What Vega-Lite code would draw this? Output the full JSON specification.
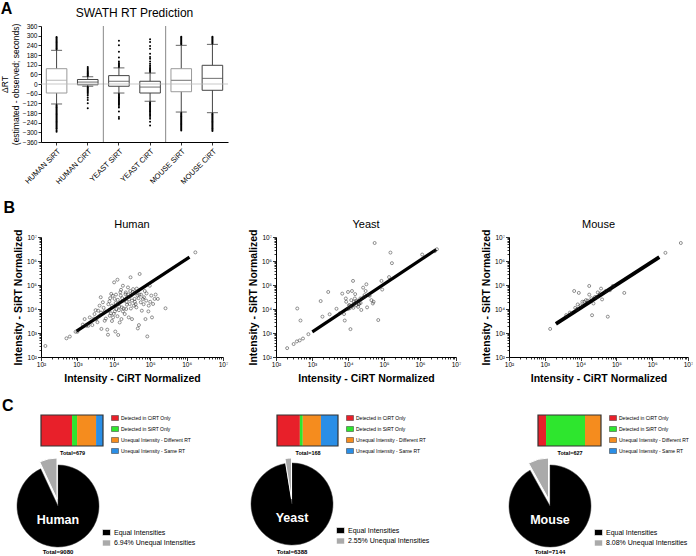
{
"$schema": "https://vega.github.io/schema/vega-lite/v6.json",
"padding": {"left": 0, "top": 1, "right": 0, "bottom": 0},
"background": "white",
"config": {
 "font": "Liberation Sans",
 "view": {"stroke": null},
 "axis": {"grid": false, "domainColor": "#000", "tickColor": "#000", "labelColor": "#000", "titleColor": "#000", "tickWidth": 0.8},
 "title": {"color": "#000"},
 "legend": {"labelColor": "#000"}
},
"datasets": {
 "stats": [
  {"g":"HUMAN SiRT","lo":-124,"q1":-56,"med":23,"q3":95,"hi":209},
  {"g":"HUMAN CiRT","lo":-14,"q1":-5,"med":12,"q3":28,"hi":45},
  {"g":"YEAST SiRT","lo":-56,"q1":-14,"med":17,"q3":52,"hi":100},
  {"g":"YEAST CiRT","lo":-107,"q1":-56,"med":-19,"q3":17,"hi":68},
  {"g":"MOUSE SiRT","lo":-174,"q1":-48,"med":23,"q3":95,"hi":240},
  {"g":"MOUSE CiRT","lo":-178,"q1":-39,"med":35,"q3":116,"hi":246}
 ],
 "outl": [
  {"g":"HUMAN SiRT","v":215},{"g":"HUMAN SiRT","v":221},{"g":"HUMAN SiRT","v":227},{"g":"HUMAN SiRT","v":233},{"g":"HUMAN SiRT","v":239},{"g":"HUMAN SiRT","v":245},{"g":"HUMAN SiRT","v":251},{"g":"HUMAN SiRT","v":257},{"g":"HUMAN SiRT","v":263},{"g":"HUMAN SiRT","v":269},{"g":"HUMAN SiRT","v":275},{"g":"HUMAN SiRT","v":281},{"g":"HUMAN SiRT","v":287},{"g":"HUMAN SiRT","v":292},
  {"g":"HUMAN SiRT","v":-130},{"g":"HUMAN SiRT","v":-136},{"g":"HUMAN SiRT","v":-142},{"g":"HUMAN SiRT","v":-148},{"g":"HUMAN SiRT","v":-154},{"g":"HUMAN SiRT","v":-160},{"g":"HUMAN SiRT","v":-166},{"g":"HUMAN SiRT","v":-172},{"g":"HUMAN SiRT","v":-178},{"g":"HUMAN SiRT","v":-184},{"g":"HUMAN SiRT","v":-190},{"g":"HUMAN SiRT","v":-196},{"g":"HUMAN SiRT","v":-202},{"g":"HUMAN SiRT","v":-208},{"g":"HUMAN SiRT","v":-214},{"g":"HUMAN SiRT","v":-220},{"g":"HUMAN SiRT","v":-226},{"g":"HUMAN SiRT","v":-232},{"g":"HUMAN SiRT","v":-238},{"g":"HUMAN SiRT","v":-244},{"g":"HUMAN SiRT","v":-250},{"g":"HUMAN SiRT","v":-256},{"g":"HUMAN SiRT","v":-262},{"g":"HUMAN SiRT","v":-268},{"g":"HUMAN SiRT","v":-274},{"g":"HUMAN SiRT","v":-280},{"g":"HUMAN SiRT","v":-288},{"g":"HUMAN SiRT","v":-296},
  {"g":"HUMAN CiRT","v":50},{"g":"HUMAN CiRT","v":55},{"g":"HUMAN CiRT","v":60},{"g":"HUMAN CiRT","v":65},{"g":"HUMAN CiRT","v":70},{"g":"HUMAN CiRT","v":76},{"g":"HUMAN CiRT","v":83},{"g":"HUMAN CiRT","v":90},{"g":"HUMAN CiRT","v":98},{"g":"HUMAN CiRT","v":106},
  {"g":"HUMAN CiRT","v":-18},{"g":"HUMAN CiRT","v":-24},{"g":"HUMAN CiRT","v":-30},{"g":"HUMAN CiRT","v":-36},{"g":"HUMAN CiRT","v":-42},{"g":"HUMAN CiRT","v":-48},{"g":"HUMAN CiRT","v":-55},{"g":"HUMAN CiRT","v":-62},{"g":"HUMAN CiRT","v":-72},{"g":"HUMAN CiRT","v":-85},{"g":"HUMAN CiRT","v":-100},{"g":"HUMAN CiRT","v":-120},{"g":"HUMAN CiRT","v":-150},
  {"g":"YEAST SiRT","v":106},{"g":"YEAST SiRT","v":112},{"g":"YEAST SiRT","v":118},{"g":"YEAST SiRT","v":124},{"g":"YEAST SiRT","v":131},{"g":"YEAST SiRT","v":140},{"g":"YEAST SiRT","v":165},{"g":"YEAST SiRT","v":200},{"g":"YEAST SiRT","v":240},{"g":"YEAST SiRT","v":268},
  {"g":"YEAST SiRT","v":-62},{"g":"YEAST SiRT","v":-68},{"g":"YEAST SiRT","v":-74},{"g":"YEAST SiRT","v":-80},{"g":"YEAST SiRT","v":-86},{"g":"YEAST SiRT","v":-92},{"g":"YEAST SiRT","v":-98},{"g":"YEAST SiRT","v":-104},{"g":"YEAST SiRT","v":-110},{"g":"YEAST SiRT","v":-116},{"g":"YEAST SiRT","v":-122},{"g":"YEAST SiRT","v":-128},{"g":"YEAST SiRT","v":-136},{"g":"YEAST SiRT","v":-146},{"g":"YEAST SiRT","v":-170},{"g":"YEAST SiRT","v":-205},{"g":"YEAST SiRT","v":-215},
  {"g":"YEAST CiRT","v":74},{"g":"YEAST CiRT","v":80},{"g":"YEAST CiRT","v":86},{"g":"YEAST CiRT","v":92},{"g":"YEAST CiRT","v":98},{"g":"YEAST CiRT","v":105},{"g":"YEAST CiRT","v":115},{"g":"YEAST CiRT","v":126},{"g":"YEAST CiRT","v":140},{"g":"YEAST CiRT","v":157},{"g":"YEAST CiRT","v":168},{"g":"YEAST CiRT","v":188},{"g":"YEAST CiRT","v":219},{"g":"YEAST CiRT","v":236},{"g":"YEAST CiRT","v":261},{"g":"YEAST CiRT","v":277},
  {"g":"YEAST CiRT","v":-113},{"g":"YEAST CiRT","v":-119},{"g":"YEAST CiRT","v":-125},{"g":"YEAST CiRT","v":-131},{"g":"YEAST CiRT","v":-137},{"g":"YEAST CiRT","v":-143},{"g":"YEAST CiRT","v":-149},{"g":"YEAST CiRT","v":-155},{"g":"YEAST CiRT","v":-161},{"g":"YEAST CiRT","v":-167},{"g":"YEAST CiRT","v":-173},{"g":"YEAST CiRT","v":-180},{"g":"YEAST CiRT","v":-188},{"g":"YEAST CiRT","v":-196},{"g":"YEAST CiRT","v":-205},{"g":"YEAST CiRT","v":-215},{"g":"YEAST CiRT","v":-234},{"g":"YEAST CiRT","v":-258},
  {"g":"MOUSE SiRT","v":246},{"g":"MOUSE SiRT","v":252},{"g":"MOUSE SiRT","v":258},{"g":"MOUSE SiRT","v":264},{"g":"MOUSE SiRT","v":270},{"g":"MOUSE SiRT","v":276},{"g":"MOUSE SiRT","v":282},{"g":"MOUSE SiRT","v":288},{"g":"MOUSE SiRT","v":294},
  {"g":"MOUSE SiRT","v":-180},{"g":"MOUSE SiRT","v":-186},{"g":"MOUSE SiRT","v":-192},{"g":"MOUSE SiRT","v":-198},{"g":"MOUSE SiRT","v":-204},{"g":"MOUSE SiRT","v":-210},{"g":"MOUSE SiRT","v":-216},{"g":"MOUSE SiRT","v":-222},{"g":"MOUSE SiRT","v":-228},{"g":"MOUSE SiRT","v":-234},{"g":"MOUSE SiRT","v":-240},{"g":"MOUSE SiRT","v":-246},{"g":"MOUSE SiRT","v":-252},{"g":"MOUSE SiRT","v":-258},{"g":"MOUSE SiRT","v":-264},{"g":"MOUSE SiRT","v":-270},{"g":"MOUSE SiRT","v":-276},{"g":"MOUSE SiRT","v":-282},{"g":"MOUSE SiRT","v":-288},
  {"g":"MOUSE CiRT","v":252},{"g":"MOUSE CiRT","v":258},{"g":"MOUSE CiRT","v":264},{"g":"MOUSE CiRT","v":270},{"g":"MOUSE CiRT","v":276},{"g":"MOUSE CiRT","v":282},{"g":"MOUSE CiRT","v":288},{"g":"MOUSE CiRT","v":294},
  {"g":"MOUSE CiRT","v":-184},{"g":"MOUSE CiRT","v":-190},{"g":"MOUSE CiRT","v":-196},{"g":"MOUSE CiRT","v":-202},{"g":"MOUSE CiRT","v":-208},{"g":"MOUSE CiRT","v":-214},{"g":"MOUSE CiRT","v":-220},{"g":"MOUSE CiRT","v":-226},{"g":"MOUSE CiRT","v":-232},{"g":"MOUSE CiRT","v":-238},{"g":"MOUSE CiRT","v":-244},{"g":"MOUSE CiRT","v":-250},{"g":"MOUSE CiRT","v":-256},{"g":"MOUSE CiRT","v":-262},{"g":"MOUSE CiRT","v":-268},{"g":"MOUSE CiRT","v":-274},{"g":"MOUSE CiRT","v":-280},{"g":"MOUSE CiRT","v":-286},{"g":"MOUSE CiRT","v":-292}
 ],
 "hum": [
  {"x":132,"y":288},{"x":500,"y":600},{"x":620,"y":710},{"x":890,"y":1120},{"x":1000,"y":1120},{"x":1580,"y":3800},{"x":2000,"y":2000},{"x":2190,"y":4470},{"x":2570,"y":2140},{"x":2950,"y":6170},{"x":3160,"y":8910},{"x":3310,"y":3800},{"x":3720,"y":8510},{"x":3980,"y":5010},{"x":4070,"y":13800},{"x":4370,"y":30900},{"x":4570,"y":1480},{"x":5010,"y":19100},{"x":5620,"y":3240},{"x":5620,"y":7940},{"x":6610,"y":1380},{"x":6920,"y":850},{"x":7080,"y":15800},{"x":7240,"y":8510},{"x":7760,"y":5250},{"x":7940,"y":28200},{"x":8510,"y":42700},{"x":8910,"y":13800},{"x":8910,"y":3160},{"x":9550,"y":4470},{"x":10000,"y":6310},{"x":10200,"y":129000},{"x":10500,"y":26300},{"x":11000,"y":1150},{"x":11200,"y":17800},{"x":11700,"y":10000},{"x":12600,"y":166000},{"x":12600,"y":5010},{"x":13200,"y":830},{"x":13500,"y":16200},{"x":14100,"y":12600},{"x":14500,"y":2750},{"x":15500,"y":36300},{"x":15800,"y":63100},{"x":16200,"y":3800},{"x":16600,"y":11700},{"x":17800,"y":93300},{"x":17800,"y":7940},{"x":19100,"y":22400},{"x":20000,"y":6170},{"x":21400,"y":49000},{"x":21900,"y":10000},{"x":22400,"y":20000},{"x":23400,"y":30900},{"x":24500,"y":79400},{"x":25100,"y":39800},{"x":25700,"y":4470},{"x":27500,"y":16200},{"x":28200,"y":56200},{"x":28800,"y":209000},{"x":30200,"y":36300},{"x":31600,"y":3800},{"x":31600,"y":22400},{"x":33900,"y":67600},{"x":35500,"y":13800},{"x":37200,"y":26300},{"x":39800,"y":49000},{"x":39800,"y":15800},{"x":41700,"y":11700},{"x":44700,"y":36300},{"x":45700,"y":1550},{"x":49000,"y":2140},{"x":50100,"y":39800},{"x":51300,"y":288000},{"x":55000,"y":19100},{"x":58900,"y":8510},{"x":63100,"y":26300},{"x":67600,"y":30900},{"x":70800,"y":56200},{"x":74100,"y":3800},{"x":77600,"y":22400},{"x":83200,"y":720},{"x":91200,"y":13800},{"x":97700,"y":93300},{"x":100000,"y":20000},{"x":107000,"y":36300},{"x":112000,"y":4470},{"x":120000,"y":16200},{"x":132000,"y":26300},{"x":162000,"y":26300},{"x":263000,"y":10700},{"x":1740000,"y":2290000},
  {"x":4470,"y":7080},{"x":5250,"y":11200},{"x":6030,"y":3980},{"x":7590,"y":20900},{"x":8320,"y":6610},{"x":9330,"y":35500},{"x":10700,"y":7940},{"x":11500,"y":39800},{"x":12900,"y":24000},{"x":13800,"y":8910},{"x":15100,"y":50100},{"x":17000,"y":28200},{"x":18600,"y":10500},{"x":20900,"y":41700},{"x":22900,"y":15100},{"x":26300,"y":25100},{"x":29500,"y":10500},{"x":33100,"y":50100},{"x":38000,"y":20000},{"x":42700,"y":70800},{"x":47900,"y":28200},{"x":56200,"y":39800},{"x":66100,"y":15800},{"x":79400,"y":44700},{"x":3550,"y":2820},{"x":2820,"y":3980},{"x":1780,"y":2000},{"x":1410,"y":2240},{"x":89100,"y":7940},{"x":141000,"y":39800}
 ],
 "yea": [
  {"x":204,"y":234},{"x":309,"y":347},{"x":380,"y":447},{"x":457,"y":490},{"x":562,"y":589},{"x":794,"y":891},{"x":389,"y":10500},{"x":479,"y":3310},{"x":1740,"y":21400},{"x":1950,"y":4790},{"x":2820,"y":51300},{"x":3090,"y":6030},{"x":4790,"y":10200},{"x":5890,"y":6610},{"x":6920,"y":43700},{"x":7760,"y":6170},{"x":8130,"y":3310},{"x":8710,"y":27500},{"x":8910,"y":20000},{"x":10000,"y":51300},{"x":10000,"y":10000},{"x":10700,"y":14500},{"x":11200,"y":10700},{"x":11700,"y":1450},{"x":12300,"y":23400},{"x":12900,"y":56200},{"x":13200,"y":13200},{"x":13800,"y":148000},{"x":14500,"y":20000},{"x":15500,"y":27500},{"x":15800,"y":41700},{"x":15800,"y":17800},{"x":17000,"y":14500},{"x":19100,"y":12300},{"x":20000,"y":15800},{"x":20400,"y":17000},{"x":21900,"y":27500},{"x":23400,"y":9120},{"x":25100,"y":28200},{"x":26300,"y":77600},{"x":28800,"y":38000},{"x":30900,"y":56200},{"x":32400,"y":107000},{"x":33900,"y":11700},{"x":38000,"y":38000},{"x":39800,"y":35500},{"x":44700,"y":23400},{"x":49000,"y":17000},{"x":51300,"y":20000},{"x":55000,"y":5620000},{"x":69200,"y":3470},{"x":85100,"y":148000},{"x":89100,"y":64600},{"x":138000,"y":214000},{"x":151000,"y":2240000},{"x":166000,"y":813000},{"x":1150000,"y":1860000},{"x":2570000,"y":2570000},{"x":2950000,"y":3090000},
  {"x":11200,"y":14100},{"x":14100,"y":11200},{"x":17800,"y":22400},{"x":22400,"y":17800},{"x":28200,"y":31600}
 ],
 "mou": [
  {"x":1410,"y":1480},{"x":5010,"y":7080},{"x":6610,"y":56200},{"x":7080,"y":11200},{"x":8320,"y":15500},{"x":8910,"y":46800},{"x":10000,"y":14100},{"x":11200,"y":20000},{"x":12600,"y":20000},{"x":14100,"y":23400},{"x":17400,"y":91200},{"x":17400,"y":39800},{"x":20000,"y":28200},{"x":20900,"y":5500},{"x":22900,"y":17000},{"x":28200,"y":31600},{"x":30200,"y":49000},{"x":37200,"y":70800},{"x":39800,"y":25100},{"x":50100,"y":56200},{"x":57500,"y":4790},{"x":66100,"y":60300},{"x":79400,"y":91200},{"x":166000,"y":46800},{"x":2340000,"y":2190000},{"x":6310000,"y":5620000},
  {"x":7940,"y":10000},{"x":15800,"y":22400},{"x":25100,"y":31600},{"x":35500,"y":44700},{"x":3980,"y":5620}
 ]
},
"concat": [
 {
  "title": {"text": "A", "anchor": "start", "fontSize": 16, "fontWeight": "bold", "offset": -10},
  "vconcat": [
   {
    "width": 187, "height": 116,
    "title": {"text": "SWATH RT Prediction", "fontSize": 12, "fontWeight": "normal", "offset": 3},
    "layer": [
     {"data": {"name": "stats"}, "mark": {"type": "rule", "color": "#444", "strokeWidth": 1},
      "encoding": {
       "x": {"field": "g", "type": "nominal", "scale": {"domain": ["HUMAN SiRT","HUMAN CiRT","YEAST SiRT","YEAST CiRT","MOUSE SiRT","MOUSE CiRT"], "paddingInner": 0, "paddingOuter": 0}, "axis": {"title": null, "labelAngle": -45, "labelFontSize": 7.5, "tickSize": 3, "labelPadding": 2}},
       "y": {"field": "lo", "type": "quantitative", "scale": {"domain": [-360, 360], "nice": false, "zero": false}, "axis": {"values": [-360,-300,-240,-180,-120,-60,0,60,120,180,240,300,360], "labelOverlap": false, "labelFlush": false, "labelFontSize": 6.5, "tickSize": 3, "labelPadding": 1, "title": ["ΔRT", "(estimated - observed; seconds)"], "titleFontSize": 8.5, "titleFontWeight": "normal", "titlePadding": 2}},
       "y2": {"field": "hi"}
      }},
     {"data": {"name": "stats"}, "mark": {"type": "bar", "width": {"band": 0.66}, "fill": "white", "strokeWidth": 1},
      "encoding": {"x": {"field": "g", "type": "nominal"}, "y": {"field": "q1", "type": "quantitative", "axis": {"values": [-360,-300,-240,-180,-120,-60,0,60,120,180,240,300,360], "labelOverlap": false, "labelFlush": false, "labelFontSize": 6.5, "tickSize": 3, "labelPadding": 1, "title": ["ΔRT", "(estimated - observed; seconds)"], "titleFontSize": 8.5, "titleFontWeight": "normal", "titlePadding": 2}}, "y2": {"field": "q3"},
       "stroke": {"condition": {"test": "datum.g == 'HUMAN SiRT' || datum.g == 'MOUSE SiRT'", "value": "#9a9a9a"}, "value": "#444"}}},
     {"data": {"name": "stats"}, "mark": {"type": "tick", "size": 20, "thickness": 1},
      "encoding": {"x": {"field": "g", "type": "nominal"}, "y": {"field": "med", "type": "quantitative", "axis": {"values": [-360,-300,-240,-180,-120,-60,0,60,120,180,240,300,360], "labelOverlap": false, "labelFlush": false, "labelFontSize": 6.5, "tickSize": 3, "labelPadding": 1, "title": ["ΔRT", "(estimated - observed; seconds)"], "titleFontSize": 8.5, "titleFontWeight": "normal", "titlePadding": 2}},
       "color": {"condition": {"test": "datum.g == 'HUMAN SiRT'", "value": "#9a9a9a"}, "value": "#333"}}},
     {"data": {"name": "stats"}, "mark": {"type": "tick", "size": 11, "thickness": 1, "color": "#222"},
      "encoding": {"x": {"field": "g", "type": "nominal"}, "y": {"field": "lo", "type": "quantitative", "axis": {"values": [-360,-300,-240,-180,-120,-60,0,60,120,180,240,300,360], "labelOverlap": false, "labelFlush": false, "labelFontSize": 6.5, "tickSize": 3, "labelPadding": 1, "title": ["ΔRT", "(estimated - observed; seconds)"], "titleFontSize": 8.5, "titleFontWeight": "normal", "titlePadding": 2}}}},
     {"data": {"name": "stats"}, "mark": {"type": "tick", "size": 11, "thickness": 1, "color": "#222"},
      "encoding": {"x": {"field": "g", "type": "nominal"}, "y": {"field": "hi", "type": "quantitative", "axis": {"values": [-360,-300,-240,-180,-120,-60,0,60,120,180,240,300,360], "labelOverlap": false, "labelFlush": false, "labelFontSize": 6.5, "tickSize": 3, "labelPadding": 1, "title": ["ΔRT", "(estimated - observed; seconds)"], "titleFontSize": 8.5, "titleFontWeight": "normal", "titlePadding": 2}}}},
     {"data": {"name": "outl"}, "mark": {"type": "point", "filled": true, "size": 4, "color": "#000", "opacity": 1},
      "encoding": {"x": {"field": "g", "type": "nominal"}, "y": {"field": "v", "type": "quantitative", "axis": {"values": [-360,-300,-240,-180,-120,-60,0,60,120,180,240,300,360], "labelOverlap": false, "labelFlush": false, "labelFontSize": 6.5, "tickSize": 3, "labelPadding": 1, "title": ["ΔRT", "(estimated - observed; seconds)"], "titleFontSize": 8.5, "titleFontWeight": "normal", "titlePadding": 2}}}},
     {"data": {"values": [{"z": 0}]}, "mark": {"type": "rule", "color": "#bbb", "strokeWidth": 0.8},
      "encoding": {"y": {"field": "z", "type": "quantitative", "axis": {"values": [-360,-300,-240,-180,-120,-60,0,60,120,180,240,300,360], "labelOverlap": false, "labelFlush": false, "labelFontSize": 6.5, "tickSize": 3, "labelPadding": 1, "title": ["ΔRT", "(estimated - observed; seconds)"], "titleFontSize": 8.5, "titleFontWeight": "normal", "titlePadding": 2}}}},
     {"data": {"values": [{"g": "YEAST SiRT"}, {"g": "MOUSE SiRT"}]}, "mark": {"type": "rule", "color": "#888", "strokeWidth": 1},
      "encoding": {"x": {"field": "g", "type": "nominal", "bandPosition": 0}}}
    ]
   }
  ]
 },
 {
  "title": {"text": "B", "anchor": "start", "fontSize": 16, "fontWeight": "bold", "dx": -10, "offset": 3},
  "hconcat": [
   {
    "width": 182, "height": 120,
    "title": {"text": "Human", "fontSize": 11, "fontWeight": "normal", "offset": -1},
    "layer": [
     {"data": {"values": [{"x": 950, "y": 1200}, {"x": 1200000, "y": 1450000}]}, "mark": {"type": "line", "color": "#000", "strokeWidth": 3.2},
      "encoding": {
       "x": {"field": "x", "type": "quantitative", "scale": {"type": "log", "domain": [100, 10000000], "nice": false}, "axis": {"title": "Intensity - CiRT Normalized", "titleFontSize": 10.5, "titleFontWeight": "bold", "titlePadding": 5, "tickCount": 50, "labelOverlap": false, "labelFlush": false, "labelFontSize": 6.5, "labelPadding": 1, "labelExpr": "abs(log(datum.value)/LN10 - round(log(datum.value)/LN10)) < 0.01 ? '10' + ['⁰','¹','²','³','⁴','⁵','⁶','⁷','⁸'][round(log(datum.value)/LN10)] : ''", "tickSize": {"condition": {"test": "abs(log(datum.value)/LN10 - round(log(datum.value)/LN10)) < 0.01", "value": 3.5}, "value": 2}}},
       "y": {"field": "y", "type": "quantitative", "scale": {"type": "log", "domain": [100, 10000000], "nice": false}, "axis": {"title": "Intensity - SiRT Normalized", "titleFontSize": 10.5, "titleFontWeight": "bold", "titlePadding": 3, "tickCount": 50, "labelOverlap": false, "labelFlush": false, "labelFontSize": 6.5, "labelPadding": 1, "labelExpr": "abs(log(datum.value)/LN10 - round(log(datum.value)/LN10)) < 0.01 ? '10' + ['⁰','¹','²','³','⁴','⁵','⁶','⁷','⁸'][round(log(datum.value)/LN10)] : ''", "tickSize": {"condition": {"test": "abs(log(datum.value)/LN10 - round(log(datum.value)/LN10)) < 0.01", "value": 3.5}, "value": 2}}}
      }},
     {"data": {"name": "hum"}, "mark": {"type": "point", "shape": "circle", "size": 9, "color": "#222", "strokeWidth": 0.7},
      "encoding": {"x": {"field": "x", "type": "quantitative"}, "y": {"field": "y", "type": "quantitative"}}}
    ]
   },
   {
    "width": 180, "height": 120,
    "title": {"text": "Yeast", "fontSize": 11, "fontWeight": "normal", "offset": -1},
    "layer": [
     {"data": {"values": [{"x": 1020, "y": 1120}, {"x": 2820000, "y": 3020000}]}, "mark": {"type": "line", "color": "#000", "strokeWidth": 3.2},
      "encoding": {
       "x": {"field": "x", "type": "quantitative", "scale": {"type": "log", "domain": [100, 10000000], "nice": false}, "axis": {"title": "Intensity - CiRT Normalized", "titleFontSize": 10.5, "titleFontWeight": "bold", "titlePadding": 5, "tickCount": 50, "labelOverlap": false, "labelFlush": false, "labelFontSize": 6.5, "labelPadding": 1, "labelExpr": "abs(log(datum.value)/LN10 - round(log(datum.value)/LN10)) < 0.01 ? '10' + ['⁰','¹','²','³','⁴','⁵','⁶','⁷','⁸'][round(log(datum.value)/LN10)] : ''", "tickSize": {"condition": {"test": "abs(log(datum.value)/LN10 - round(log(datum.value)/LN10)) < 0.01", "value": 3.5}, "value": 2}}},
       "y": {"field": "y", "type": "quantitative", "scale": {"type": "log", "domain": [100, 10000000], "nice": false}, "axis": {"title": "Intensity - SiRT Normalized", "titleFontSize": 10.5, "titleFontWeight": "bold", "titlePadding": 3, "tickCount": 50, "labelOverlap": false, "labelFlush": false, "labelFontSize": 6.5, "labelPadding": 1, "labelExpr": "abs(log(datum.value)/LN10 - round(log(datum.value)/LN10)) < 0.01 ? '10' + ['⁰','¹','²','³','⁴','⁵','⁶','⁷','⁸'][round(log(datum.value)/LN10)] : ''", "tickSize": {"condition": {"test": "abs(log(datum.value)/LN10 - round(log(datum.value)/LN10)) < 0.01", "value": 3.5}, "value": 2}}}
      }},
     {"data": {"name": "yea"}, "mark": {"type": "point", "shape": "circle", "size": 9, "color": "#222", "strokeWidth": 0.7},
      "encoding": {"x": {"field": "x", "type": "quantitative"}, "y": {"field": "y", "type": "quantitative"}}}
    ]
   },
   {
    "width": 179, "height": 120,
    "title": {"text": "Mouse", "fontSize": 11, "fontWeight": "normal", "offset": -1},
    "layer": [
     {"data": {"values": [{"x": 2040, "y": 2400}, {"x": 1580000, "y": 1450000}]}, "mark": {"type": "line", "color": "#000", "strokeWidth": 3.8},
      "encoding": {
       "x": {"field": "x", "type": "quantitative", "scale": {"type": "log", "domain": [100, 10000000], "nice": false}, "axis": {"title": "Intensity - CiRT Normalized", "titleFontSize": 10.5, "titleFontWeight": "bold", "titlePadding": 5, "tickCount": 50, "labelOverlap": false, "labelFlush": false, "labelFontSize": 6.5, "labelPadding": 1, "labelExpr": "abs(log(datum.value)/LN10 - round(log(datum.value)/LN10)) < 0.01 ? '10' + ['⁰','¹','²','³','⁴','⁵','⁶','⁷','⁸'][round(log(datum.value)/LN10)] : ''", "tickSize": {"condition": {"test": "abs(log(datum.value)/LN10 - round(log(datum.value)/LN10)) < 0.01", "value": 3.5}, "value": 2}}},
       "y": {"field": "y", "type": "quantitative", "scale": {"type": "log", "domain": [100, 10000000], "nice": false}, "axis": {"title": "Intensity - SiRT Normalized", "titleFontSize": 10.5, "titleFontWeight": "bold", "titlePadding": 3, "tickCount": 50, "labelOverlap": false, "labelFlush": false, "labelFontSize": 6.5, "labelPadding": 1, "labelExpr": "abs(log(datum.value)/LN10 - round(log(datum.value)/LN10)) < 0.01 ? '10' + ['⁰','¹','²','³','⁴','⁵','⁶','⁷','⁸'][round(log(datum.value)/LN10)] : ''", "tickSize": {"condition": {"test": "abs(log(datum.value)/LN10 - round(log(datum.value)/LN10)) < 0.01", "value": 3.5}, "value": 2}}}
      }},
     {"data": {"name": "mou"}, "mark": {"type": "point", "shape": "circle", "size": 9, "color": "#222", "strokeWidth": 0.7},
      "encoding": {"x": {"field": "x", "type": "quantitative"}, "y": {"field": "y", "type": "quantitative"}}}
    ]
   }
  ],
  "spacing": 53,
  "bounds": "flush",
  "resolve": {"scale": {"x": "independent", "y": "independent"}}
 },
 {
  "title": {"text": "C", "anchor": "start", "fontSize": 16, "fontWeight": "bold", "dx": -14, "offset": 0},
  "hconcat": [
   {
    "concat": [
     {
      "width": 62, "height": 31,
      "data": {"values": [{"sp":"h","cat":"Detected in CiRT Only","n":340,"o":1},{"sp":"h","cat":"Detected in SiRT Only","n":55,"o":2},{"sp":"h","cat":"Unequal Intensity - Different RT","n":208,"o":3},{"sp":"h","cat":"Unequal Intensity - Same RT","n":76,"o":4}]},
      "encoding": {"y": {"field": "sp", "type": "nominal", "scale": {"paddingInner": 0, "paddingOuter": 0}, "axis": null}},
      "layer": [
       {"mark": {"type": "bar"}, "encoding": {
        "x": {"field": "n", "type": "quantitative", "stack": "zero", "scale": {"domain": [0, 679], "nice": false}, "axis": {"title": "Total=679", "labels": false, "ticks": false, "domain": false, "titleFontSize": 5.5, "titleFontWeight": "bold", "titlePadding": 4}},
        "color": {"field": "cat", "type": "nominal", "scale": {"domain": ["Detected in CiRT Only","Detected in SiRT Only","Unequal Intensity - Different RT","Unequal Intensity - Same RT"], "range": ["#e8202a","#2ee62e","#f58c1e","#2a8ee6"]}, "legend": {"title": null, "orient": "right", "offset": 9, "symbolType": "M-1.4,-1H1.4V1H-1.4Z", "symbolSize": 25, "symbolStrokeColor": "#333", "symbolStrokeWidth": 0.5, "labelFontSize": 5, "rowPadding": 3, "labelOffset": 3, "labelLimit": 200, "padding": 0}},
        "order": {"field": "o", "type": "quantitative"}}},
       {"mark": {"type": "bar", "fill": "transparent", "stroke": "#333", "strokeWidth": 1.2}, "encoding": {
        "x": {"aggregate": "sum", "field": "n", "type": "quantitative", "axis": {"title": "Total=679", "labels": false, "ticks": false, "domain": false, "titleFontSize": 5.5, "titleFontWeight": "bold", "titlePadding": 4}}}}
      ]
     },
     {
      "width": 82, "height": 82,
      "title": {"text": "Total=9080", "orient": "bottom", "fontSize": 6, "fontWeight": "bold", "offset": 1, "dx": -24},
      "data": {"values": [{"lab": "Equal Intensities", "n": 8450, "o": 1}, {"lab": "6.94%  Unequal Intensities", "n": 630, "o": 2}]},
      "layer": [
       {"mark": {"type": "arc", "radius": 41, "xOffset": -24, "stroke": "#333", "strokeWidth": 0.5}, "encoding": {
        "theta": {"field": "n", "type": "quantitative", "stack": true},
        "order": {"field": "o", "type": "quantitative"},
        "color": {"field": "lab", "type": "nominal", "scale": {"domain": ["Equal Intensities", "6.94%  Unequal Intensities"], "range": ["#000000", "#aaaaaa"]}, "legend": {"title": null, "orient": "none", "legendX": 62, "legendY": 64, "direction": "vertical", "symbolType": "M-1.33,-1H1.33V1H-1.33Z", "symbolSize": 36, "symbolStrokeColor": "#333", "symbolStrokeWidth": 0.6, "labelFontSize": 7, "rowPadding": 1.5, "labelOffset": 4, "labelLimit": 200}},
        "fillOpacity": {"condition": {"test": "datum.o == 1", "value": 1}, "value": 0},
        "strokeOpacity": {"condition": {"test": "datum.o == 1", "value": 1}, "value": 0}}},
       {"mark": {"type": "arc", "radius": 41, "xOffset": -25, "yOffset": -7, "stroke": "#fff", "strokeWidth": 1}, "encoding": {
        "theta": {"field": "n", "type": "quantitative", "stack": true},
        "order": {"field": "o", "type": "quantitative"},
        "color": {"field": "lab", "type": "nominal"},
        "fillOpacity": {"condition": {"test": "datum.o == 2", "value": 1}, "value": 0},
        "strokeOpacity": {"condition": {"test": "datum.o == 2", "value": 1}, "value": 0}}},
       {"data": {"values": [{"name": "Human"}]}, "mark": {"type": "text", "color": "#fff", "fontSize": 12.5, "fontWeight": "bold", "baseline": "middle", "dy": 14, "dx": -24}, "encoding": {"text": {"field": "name", "type": "nominal"}}}
      ]
     }
    ],
    "columns": 1, "spacing": 0,
    "resolve": {"scale": {"color": "independent"}, "legend": {"color": "independent"}}
   },
   {
    "concat": [
     {
      "width": 61, "height": 31,
      "data": {"values": [{"sp":"y","cat":"Detected in CiRT Only","n":63,"o":1},{"sp":"y","cat":"Detected in SiRT Only","n":8,"o":2},{"sp":"y","cat":"Unequal Intensity - Different RT","n":50,"o":3},{"sp":"y","cat":"Unequal Intensity - Same RT","n":47,"o":4}]},
      "encoding": {"y": {"field": "sp", "type": "nominal", "scale": {"paddingInner": 0, "paddingOuter": 0}, "axis": null}},
      "layer": [
       {"mark": {"type": "bar"}, "encoding": {
        "x": {"field": "n", "type": "quantitative", "stack": "zero", "scale": {"domain": [0, 168], "nice": false}, "axis": {"title": "Total=168", "labels": false, "ticks": false, "domain": false, "titleFontSize": 5.5, "titleFontWeight": "bold", "titlePadding": 4}},
        "color": {"field": "cat", "type": "nominal", "scale": {"domain": ["Detected in CiRT Only","Detected in SiRT Only","Unequal Intensity - Different RT","Unequal Intensity - Same RT"], "range": ["#e8202a","#2ee62e","#f58c1e","#2a8ee6"]}, "legend": {"title": null, "orient": "right", "offset": 9, "symbolType": "M-1.4,-1H1.4V1H-1.4Z", "symbolSize": 25, "symbolStrokeColor": "#333", "symbolStrokeWidth": 0.5, "labelFontSize": 5, "rowPadding": 3, "labelOffset": 3, "labelLimit": 200, "padding": 0}},
        "order": {"field": "o", "type": "quantitative"}}},
       {"mark": {"type": "bar", "fill": "transparent", "stroke": "#333", "strokeWidth": 1.2}, "encoding": {
        "x": {"aggregate": "sum", "field": "n", "type": "quantitative", "axis": {"title": "Total=168", "labels": false, "ticks": false, "domain": false, "titleFontSize": 5.5, "titleFontWeight": "bold", "titlePadding": 4}}}}
      ]
     },
     {
      "width": 82, "height": 82,
      "title": {"text": "Total=6388", "orient": "bottom", "fontSize": 6, "fontWeight": "bold", "offset": 1, "dx": -26, "dy": -21},
      "data": {"values": [{"lab": "Equal Intensities", "n": 6225, "o": 1}, {"lab": "2.55%  Unequal Intensities", "n": 163, "o": 2}]},
      "layer": [
       {"mark": {"type": "arc", "radius": 41, "xOffset": -26, "stroke": "#333", "strokeWidth": 0.5}, "encoding": {
        "theta": {"field": "n", "type": "quantitative", "stack": true},
        "order": {"field": "o", "type": "quantitative"},
        "color": {"field": "lab", "type": "nominal", "scale": {"domain": ["Equal Intensities", "2.55%  Unequal Intensities"], "range": ["#000000", "#aaaaaa"]}, "legend": {"title": null, "orient": "none", "legendX": 37, "legendY": 41, "padding": 23, "direction": "vertical", "symbolType": "M-1.33,-1H1.33V1H-1.33Z", "symbolSize": 36, "symbolStrokeColor": "#333", "symbolStrokeWidth": 0.6, "labelFontSize": 7, "rowPadding": 1.5, "labelOffset": 4, "labelLimit": 200}},
        "fillOpacity": {"condition": {"test": "datum.o == 1", "value": 1}, "value": 0},
        "strokeOpacity": {"condition": {"test": "datum.o == 1", "value": 1}, "value": 0}}},
       {"mark": {"type": "arc", "radius": 41, "xOffset": -26.5, "yOffset": -5, "stroke": "#fff", "strokeWidth": 1}, "encoding": {
        "theta": {"field": "n", "type": "quantitative", "stack": true},
        "order": {"field": "o", "type": "quantitative"},
        "color": {"field": "lab", "type": "nominal"},
        "fillOpacity": {"condition": {"test": "datum.o == 2", "value": 1}, "value": 0},
        "strokeOpacity": {"condition": {"test": "datum.o == 2", "value": 1}, "value": 0}}},
       {"data": {"values": [{"name": "Yeast"}]}, "mark": {"type": "text", "color": "#fff", "fontSize": 12.5, "fontWeight": "bold", "baseline": "middle", "dy": 14, "dx": -26}, "encoding": {"text": {"field": "name", "type": "nominal"}}}
      ]
     }
    ],
    "columns": 1, "spacing": 0,
    "resolve": {"scale": {"color": "independent"}, "legend": {"color": "independent"}}
   },
   {
    "concat": [
     {
      "width": 63, "height": 31,
      "data": {"values": [{"sp":"m","cat":"Detected in CiRT Only","n":80,"o":1},{"sp":"m","cat":"Detected in SiRT Only","n":388,"o":2},{"sp":"m","cat":"Unequal Intensity - Different RT","n":159,"o":3},{"sp":"m","cat":"Unequal Intensity - Same RT","n":0,"o":4}]},
      "encoding": {"y": {"field": "sp", "type": "nominal", "scale": {"paddingInner": 0, "paddingOuter": 0}, "axis": null}},
      "layer": [
       {"mark": {"type": "bar"}, "encoding": {
        "x": {"field": "n", "type": "quantitative", "stack": "zero", "scale": {"domain": [0, 627], "nice": false}, "axis": {"title": "Total=627", "labels": false, "ticks": false, "domain": false, "titleFontSize": 5.5, "titleFontWeight": "bold", "titlePadding": 4}},
        "color": {"field": "cat", "type": "nominal", "scale": {"domain": ["Detected in CiRT Only","Detected in SiRT Only","Unequal Intensity - Different RT","Unequal Intensity - Same RT"], "range": ["#e8202a","#2ee62e","#f58c1e","#2a8ee6"]}, "legend": {"title": null, "orient": "right", "offset": 9, "symbolType": "M-1.4,-1H1.4V1H-1.4Z", "symbolSize": 25, "symbolStrokeColor": "#333", "symbolStrokeWidth": 0.5, "labelFontSize": 5, "rowPadding": 3, "labelOffset": 3, "labelLimit": 200, "padding": 0}},
        "order": {"field": "o", "type": "quantitative"}}},
       {"mark": {"type": "bar", "fill": "transparent", "stroke": "#333", "strokeWidth": 1.2}, "encoding": {
        "x": {"aggregate": "sum", "field": "n", "type": "quantitative", "axis": {"title": "Total=627", "labels": false, "ticks": false, "domain": false, "titleFontSize": 5.5, "titleFontWeight": "bold", "titlePadding": 4}}}}
      ]
     },
     {
      "width": 82, "height": 82,
      "title": {"text": "Total=7144", "orient": "bottom", "fontSize": 6, "fontWeight": "bold", "offset": 1, "dx": -29},
      "data": {"values": [{"lab": "Equal Intensities", "n": 6567, "o": 1}, {"lab": "8.08%  Unequal Intensities", "n": 577, "o": 2}]},
      "layer": [
       {"mark": {"type": "arc", "radius": 41, "xOffset": -29, "stroke": "#333", "strokeWidth": 0.5}, "encoding": {
        "theta": {"field": "n", "type": "quantitative", "stack": true},
        "order": {"field": "o", "type": "quantitative"},
        "color": {"field": "lab", "type": "nominal", "scale": {"domain": ["Equal Intensities", "8.08%  Unequal Intensities"], "range": ["#000000", "#aaaaaa"]}, "legend": {"title": null, "orient": "none", "legendX": 57, "legendY": 64, "direction": "vertical", "symbolType": "M-1.33,-1H1.33V1H-1.33Z", "symbolSize": 36, "symbolStrokeColor": "#333", "symbolStrokeWidth": 0.6, "labelFontSize": 7, "rowPadding": 1.5, "labelOffset": 4, "labelLimit": 200}},
        "fillOpacity": {"condition": {"test": "datum.o == 1", "value": 1}, "value": 0},
        "strokeOpacity": {"condition": {"test": "datum.o == 1", "value": 1}, "value": 0}}},
       {"mark": {"type": "arc", "radius": 41, "xOffset": -30.5, "yOffset": -7, "stroke": "#fff", "strokeWidth": 1}, "encoding": {
        "theta": {"field": "n", "type": "quantitative", "stack": true},
        "order": {"field": "o", "type": "quantitative"},
        "color": {"field": "lab", "type": "nominal"},
        "fillOpacity": {"condition": {"test": "datum.o == 2", "value": 1}, "value": 0},
        "strokeOpacity": {"condition": {"test": "datum.o == 2", "value": 1}, "value": 0}}},
       {"data": {"values": [{"name": "Mouse"}]}, "mark": {"type": "text", "color": "#fff", "fontSize": 12.5, "fontWeight": "bold", "baseline": "middle", "dy": 14, "dx": -29}, "encoding": {"text": {"field": "name", "type": "nominal"}}}
      ]
     }
    ],
    "columns": 1, "spacing": 0,
    "resolve": {"scale": {"color": "independent"}, "legend": {"color": "independent"}}
   }
  ],
  "spacing": 52,
  "resolve": {"scale": {"color": "independent", "x": "independent", "y": "independent", "theta": "independent"}, "legend": {"color": "independent"}}
 }
],
"columns": 1,
"align": "none",
"spacing": 14,
"resolve": {"scale": {"color": "independent", "x": "independent", "y": "independent"}, "legend": {"color": "independent"}}
}
